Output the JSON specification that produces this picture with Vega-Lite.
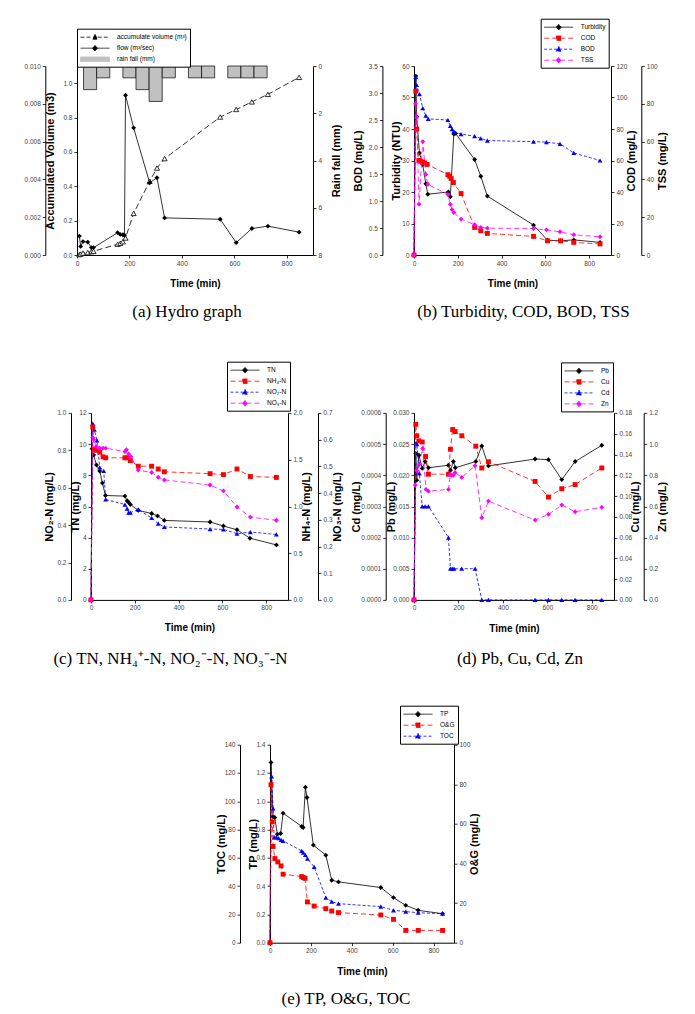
{
"$schema": "https://vega.github.io/schema/vega-lite/v6.json",
"background": "white",
"padding": {"left": 24, "top": 18, "right": 5, "bottom": 5},
"bounds": "flush",
"spacing": 346.9,
"resolve": {"scale": {"color": "independent"}, "legend": {"color": "independent"}},
"vconcat": [
{
"hconcat": [
{
"width": 236, "height": 189,
"title": {"text": "(a) Hydro graph", "offset": 15, "dx": -8},
"data": {"values": [
{"s":"rain fall (mm)","t":25,"t2":75,"v":1.0},
{"s":"rain fall (mm)","t":75,"t2":125,"v":0.5},
{"s":"rain fall (mm)","t":175,"t2":225,"v":0.5},
{"s":"rain fall (mm)","t":225,"t2":275,"v":1.0},
{"s":"rain fall (mm)","t":275,"t2":325,"v":1.5},
{"s":"rain fall (mm)","t":325,"t2":375,"v":0.5},
{"s":"rain fall (mm)","t":425,"t2":475,"v":0.5},
{"s":"rain fall (mm)","t":475,"t2":525,"v":0.5},
{"s":"rain fall (mm)","t":575,"t2":625,"v":0.5},
{"s":"rain fall (mm)","t":625,"t2":675,"v":0.5},
{"s":"rain fall (mm)","t":675,"t2":725,"v":0.5},
{"s":"accumulate volume (m³)","t":9,"v":0.00002},
{"s":"accumulate volume (m³)","t":14,"v":0.00005},
{"s":"accumulate volume (m³)","t":23,"v":0.0001},
{"s":"accumulate volume (m³)","t":41,"v":0.00013},
{"s":"accumulate volume (m³)","t":55,"v":0.00018},
{"s":"accumulate volume (m³)","t":63,"v":0.0002},
{"s":"accumulate volume (m³)","t":155,"v":0.00057},
{"s":"accumulate volume (m³)","t":165,"v":0.00062},
{"s":"accumulate volume (m³)","t":175,"v":0.0007},
{"s":"accumulate volume (m³)","t":185,"v":0.0009},
{"s":"accumulate volume (m³)","t":216,"v":0.0022},
{"s":"accumulate volume (m³)","t":277,"v":0.0039},
{"s":"accumulate volume (m³)","t":305,"v":0.0046},
{"s":"accumulate volume (m³)","t":334,"v":0.0051},
{"s":"accumulate volume (m³)","t":546,"v":0.0073},
{"s":"accumulate volume (m³)","t":607,"v":0.0077},
{"s":"accumulate volume (m³)","t":667,"v":0.0081},
{"s":"accumulate volume (m³)","t":728,"v":0.0085},
{"s":"accumulate volume (m³)","t":847,"v":0.0094},
{"s":"flow (m³/sec)","t":9,"v":0.11},
{"s":"flow (m³/sec)","t":14,"v":0.05},
{"s":"flow (m³/sec)","t":23,"v":0.078},
{"s":"flow (m³/sec)","t":41,"v":0.075},
{"s":"flow (m³/sec)","t":55,"v":0.043},
{"s":"flow (m³/sec)","t":63,"v":0.043},
{"s":"flow (m³/sec)","t":155,"v":0.13},
{"s":"flow (m³/sec)","t":165,"v":0.12},
{"s":"flow (m³/sec)","t":175,"v":0.118},
{"s":"flow (m³/sec)","t":181,"v":0.115},
{"s":"flow (m³/sec)","t":185,"v":0.93},
{"s":"flow (m³/sec)","t":216,"v":0.74},
{"s":"flow (m³/sec)","t":277,"v":0.42},
{"s":"flow (m³/sec)","t":305,"v":0.45},
{"s":"flow (m³/sec)","t":334,"v":0.216},
{"s":"flow (m³/sec)","t":546,"v":0.208},
{"s":"flow (m³/sec)","t":607,"v":0.072},
{"s":"flow (m³/sec)","t":667,"v":0.154},
{"s":"flow (m³/sec)","t":728,"v":0.168},
{"s":"flow (m³/sec)","t":847,"v":0.133}
]},
"encoding": {
"x": {"field": "t", "type": "quantitative", "scale": {"domain": [0, 900], "nice": false}, "axis": {"values": [0, 200, 400, 600, 800], "format": "d", "title": "Time (min)", "titleFontSize": 10, "titleY": 28.5, "titleBaseline": "middle"}},
"color": {"field": "s", "type": "nominal", "scale": {"domain": ["accumulate volume (m³)", "flow (m³/sec)", "rain fall (mm)"], "range": ["black", "black", "#c0c0c0"]},
 "legend": {"title": null, "orient": "none", "legendX": 0, "legendY": -37.3,
  "encode": {"symbols": {"update": {
   "shape": {"signal": "datum.value === 'rain fall (mm)' ? 'M-1,-0.45H4.8V0.45H-1Z' : datum.value === 'flow (m³/sec)' ? 'M-1,0H4.8M1.4,0L1.9,-0.55L2.4,0L1.9,0.55Z' : 'M-1,0H1.35M2.45,0H4.8M1.9,-0.55L2.4,0.4H1.4Z'"},
   "fill": {"signal": "datum.value === 'rain fall (mm)' ? '#c0c0c0' : datum.value === 'flow (m³/sec)' ? 'black' : 'white'"},
   "stroke": {"value": "black"},
   "strokeDash": {"signal": "datum.value === 'accumulate volume (m³)' ? [4,2] : [1,0]"},
   "strokeWidth": {"value": 0.8}, "size": {"value": 100}, "opacity": {"value": 1}, "fillOpacity": {"value": 1}, "strokeOpacity": {"value": 1}}}}}}
},
"layer": [
{"transform": [{"filter": "datum.s === 'rain fall (mm)'"}],
 "mark": {"type": "bar", "stroke": "black", "strokeWidth": 0.7},
 "encoding": {"x2": {"field": "t2"}, "y2": {"datum": 0}, "y": {"field": "v", "type": "quantitative", "scale": {"domain": [0, 8], "reverse": true, "nice": false},
  "axis": {"orient": "right", "offset": 0, "values": [0, 2, 4, 6, 8], "format": "d", "title": "Rain fall (mm)", "titleX": 23, "titleY": 94.5, "titleAngle": 270, "titleAlign": "center", "titleBaseline": "middle"}}}},
{"transform": [{"filter": "datum.s === 'accumulate volume (m³)'"}],
 "mark": {"type": "line", "strokeWidth": 0.8, "strokeDash": [6, 3], "point": {"shape": "triangle-up", "filled": false, "fill": "white", "size": 26, "strokeWidth": 0.8}},
 "encoding": {"y": {"field": "v", "type": "quantitative", "scale": {"domain": [0, 0.01], "nice": false},
  "axis": {"orient": "left", "offset": 31.7, "values": [0, 0.002, 0.004, 0.006, 0.008, 0.01], "format": ".3f", "title": "Accumulated Volume (m3)", "titleX": 5.5, "titleY": 94.5, "titleAngle": 270, "titleAlign": "center", "titleBaseline": "middle"}}}},
{"transform": [{"filter": "datum.s === 'flow (m³/sec)'"}],
 "mark": {"type": "line", "strokeWidth": 0.8, "point": {"shape": "diamond", "filled": true, "size": 24}},
 "encoding": {"y": {"field": "v", "type": "quantitative", "scale": {"domain": [0, 1.1], "nice": false},
  "axis": {"orient": "left", "offset": 0, "values": [0, 0.2, 0.4, 0.6, 0.8, 1.0], "format": ".1f", "title": null}}}}
],
"resolve": {"scale": {"y": "independent"}, "axis": {"y": "independent"}}
},
{"width": 101, "height": 1, "data": {"values": []}, "mark": "point"},
{
"width": 197, "height": 189,
"title": {"text": "(b) Turbidity, COD, BOD, TSS", "offset": 15, "dx": 11},
"data": {"values": [
{"s":"Turbidity","t":0,"v":0},{"s":"Turbidity","t":8,"v":56.8},{"s":"Turbidity","t":12,"v":44},{"s":"Turbidity","t":25,"v":32.4},{"s":"Turbidity","t":40,"v":28.7},{"s":"Turbidity","t":54,"v":22.6},{"s":"Turbidity","t":63,"v":19.3},{"s":"Turbidity","t":157,"v":20},{"s":"Turbidity","t":166,"v":18.5},{"s":"Turbidity","t":182,"v":38.4},{"s":"Turbidity","t":190,"v":38.6},{"s":"Turbidity","t":277,"v":30.3},{"s":"Turbidity","t":305,"v":25},{"s":"Turbidity","t":335,"v":18.7},{"s":"Turbidity","t":546,"v":9.5},{"s":"Turbidity","t":610,"v":4.7},{"s":"Turbidity","t":670,"v":4.5},{"s":"Turbidity","t":730,"v":4.8},{"s":"Turbidity","t":850,"v":4.0},
{"s":"COD","t":0,"v":0},{"s":"COD","t":8,"v":104},{"s":"COD","t":12,"v":80},{"s":"COD","t":22,"v":60},{"s":"COD","t":30,"v":59.5},{"s":"COD","t":40,"v":59},{"s":"COD","t":48,"v":58.5},{"s":"COD","t":60,"v":57.5},{"s":"COD","t":155,"v":51},{"s":"COD","t":163,"v":50},{"s":"COD","t":170,"v":48.5},{"s":"COD","t":180,"v":46},{"s":"COD","t":215,"v":39},{"s":"COD","t":277,"v":17.5},{"s":"COD","t":305,"v":15.4},{"s":"COD","t":335,"v":13.7},{"s":"COD","t":546,"v":11.8},{"s":"COD","t":610,"v":9},{"s":"COD","t":670,"v":9},{"s":"COD","t":730,"v":8},{"s":"COD","t":850,"v":7},
{"s":"BOD","t":0,"v":0},{"s":"BOD","t":8,"v":3.3},{"s":"BOD","t":12,"v":3.15},{"s":"BOD","t":25,"v":2.98},{"s":"BOD","t":40,"v":2.72},{"s":"BOD","t":54,"v":2.58},{"s":"BOD","t":65,"v":2.52},{"s":"BOD","t":155,"v":2.5},{"s":"BOD","t":166,"v":2.39},{"s":"BOD","t":174,"v":2.33},{"s":"BOD","t":182,"v":2.29},{"s":"BOD","t":215,"v":2.24},{"s":"BOD","t":277,"v":2.2},{"s":"BOD","t":305,"v":2.16},{"s":"BOD","t":335,"v":2.12},{"s":"BOD","t":546,"v":2.1},{"s":"BOD","t":605,"v":2.09},{"s":"BOD","t":667,"v":2.06},{"s":"BOD","t":730,"v":1.89},{"s":"BOD","t":850,"v":1.75},
{"s":"TSS","t":0,"v":0},{"s":"TSS","t":7,"v":80},{"s":"TSS","t":12,"v":72.8},{"s":"TSS","t":23,"v":26.8},{"s":"TSS","t":40,"v":60},{"s":"TSS","t":54,"v":42.6},{"s":"TSS","t":63,"v":37.4},{"s":"TSS","t":155,"v":32},{"s":"TSS","t":166,"v":26.8},{"s":"TSS","t":174,"v":24},{"s":"TSS","t":182,"v":22.5},{"s":"TSS","t":215,"v":19},{"s":"TSS","t":277,"v":16},{"s":"TSS","t":305,"v":14.6},{"s":"TSS","t":335,"v":14.2},{"s":"TSS","t":546,"v":14},{"s":"TSS","t":605,"v":13.3},{"s":"TSS","t":667,"v":12.3},{"s":"TSS","t":730,"v":10.7},{"s":"TSS","t":850,"v":9.6}
]},
"encoding": {
"x": {"field": "t", "type": "quantitative", "scale": {"domain": [0, 900], "nice": false}, "axis": {"values": [0, 200, 400, 600, 800], "format": "d", "title": "Time (min)", "titleFontSize": 10, "titleY": 28.5, "titleBaseline": "middle"}},
"color": {"field": "s", "type": "nominal", "scale": {"domain": ["Turbidity", "COD", "BOD", "TSS"], "range": ["black", "#ff0000", "#0000ff", "#ff00ff"]},
 "legend": {"title": null, "orient": "none", "legendX": 126.7, "legendY": -47.3,
  "encode": {"symbols": {"update": {
   "shape": {"signal": "datum.value === 'COD' ? 'M-1,0H4.8M1.45,-0.45H2.35V0.45H1.45Z' : datum.value === 'BOD' ? 'M-1,0H4.8M1.9,-0.55L2.4,0.4H1.4Z' : 'M-1,0H4.8M1.4,0L1.9,-0.55L2.4,0L1.9,0.55Z'"},
   "fill": {"signal": "datum.value === 'Turbidity' ? 'black' : datum.value === 'COD' ? '#ff0000' : datum.value === 'BOD' ? '#0000ff' : '#ff00ff'"},
   "stroke": {"signal": "datum.value === 'Turbidity' ? 'black' : datum.value === 'COD' ? '#ff0000' : datum.value === 'BOD' ? '#0000ff' : '#ff00ff'"},
   "strokeDash": {"signal": "datum.value === 'Turbidity' ? [1,0] : datum.value === 'BOD' ? [3,2] : [5,3]"},
   "strokeWidth": {"value": 0.8}, "size": {"value": 100}, "opacity": {"value": 1}, "fillOpacity": {"value": 1}, "strokeOpacity": {"value": 1}}}}}}
},
"layer": [
{"transform": [{"filter": "datum.s === 'Turbidity'"}],
 "mark": {"type": "line", "strokeWidth": 0.8, "point": {"shape": "diamond", "filled": true, "size": 24}},
 "encoding": {"y": {"field": "v", "type": "quantitative", "scale": {"domain": [0, 60], "nice": false},
  "axis": {"orient": "left", "offset": 0, "values": [0, 10, 20, 30, 40, 50, 60], "format": "d", "title": "Turbidity (NTU)", "titleX": -17.3, "titleY": 94.5, "titleAngle": 270, "titleAlign": "center", "titleBaseline": "middle"}}}},
{"transform": [{"filter": "datum.s === 'BOD'"}],
 "mark": {"type": "line", "strokeWidth": 0.8, "strokeDash": [3, 2], "point": {"shape": "triangle-up", "filled": true, "size": 24}},
 "encoding": {"y": {"field": "v", "type": "quantitative", "scale": {"domain": [0, 3.5], "nice": false},
  "axis": {"orient": "left", "offset": 31.6, "values": [0, 0.5, 1, 1.5, 2, 2.5, 3, 3.5], "format": ".1f", "title": "BOD (mg/L)", "titleX": -23.7, "titleY": 94.5, "titleAngle": 270, "titleAlign": "center", "titleBaseline": "middle"}}}},
{"transform": [{"filter": "datum.s === 'COD'"}],
 "mark": {"type": "line", "strokeWidth": 0.8, "strokeDash": [5, 3], "point": {"shape": "square", "filled": true, "size": 24}},
 "encoding": {"y": {"field": "v", "type": "quantitative", "scale": {"domain": [0, 120], "nice": false},
  "axis": {"orient": "right", "offset": 0, "values": [0, 20, 40, 60, 80, 100, 120], "format": "d", "title": "COD (mg/L)", "titleX": 20, "titleY": 94.5, "titleAngle": 270, "titleAlign": "center", "titleBaseline": "middle"}}}},
{"transform": [{"filter": "datum.s === 'TSS'"}],
 "mark": {"type": "line", "strokeWidth": 0.8, "strokeDash": [5, 3], "point": {"shape": "diamond", "filled": true, "size": 24}},
 "encoding": {"y": {"field": "v", "type": "quantitative", "scale": {"domain": [0, 100], "nice": false},
  "axis": {"orient": "right", "offset": 30.3, "values": [0, 20, 40, 60, 80, 100], "format": "d", "title": "TSS (mg/L)", "titleX": 21, "titleY": 94.5, "titleAngle": 270, "titleAlign": "center", "titleBaseline": "middle"}}}}
],
"resolve": {"scale": {"y": "independent"}, "axis": {"y": "independent"}}
}
],
"spacing": 0, "bounds": "flush",
"resolve": {"scale": {"color": "independent"}, "legend": {"color": "independent"}}
},
{
"vconcat": [
{
"hconcat": [
{"width": 14, "height": 1, "data": {"values": []}, "mark": "point"},
{
"width": 197, "height": 187,
"title": {"text": "(c) TN, NH₄⁺-N, NO₂⁻-N, NO₃⁻-N", "offset": 18, "dx": -19},
"data": {"values": [
{"s":"TN","t":0,"v":0},{"s":"TN","t":5,"v":9.7},{"s":"TN","t":12,"v":9.3},{"s":"TN","t":25,"v":8.66},{"s":"TN","t":40,"v":8.27},{"s":"TN","t":52,"v":7.5},{"s":"TN","t":66,"v":6.7},{"s":"TN","t":155,"v":6.66},{"s":"TN","t":165,"v":6.36},{"s":"TN","t":172,"v":6.25},{"s":"TN","t":180,"v":6.12},{"s":"TN","t":216,"v":5.75},{"s":"TN","t":277,"v":5.54},{"s":"TN","t":304,"v":5.39},{"s":"TN","t":335,"v":5.1},{"s":"TN","t":544,"v":5.0},{"s":"TN","t":605,"v":4.74},{"s":"TN","t":667,"v":4.5},{"s":"TN","t":726,"v":3.96},{"s":"TN","t":847,"v":3.53},
{"s":"NH₄-N","t":0,"v":0},{"s":"NH₄-N","t":8,"v":1.85},{"s":"NH₄-N","t":15,"v":1.61},{"s":"NH₄-N","t":25,"v":1.6},{"s":"NH₄-N","t":40,"v":1.58},{"s":"NH₄-N","t":55,"v":1.53},{"s":"NH₄-N","t":67,"v":1.52},{"s":"NH₄-N","t":155,"v":1.52},{"s":"NH₄-N","t":165,"v":1.52},{"s":"NH₄-N","t":180,"v":1.49},{"s":"NH₄-N","t":216,"v":1.43},{"s":"NH₄-N","t":277,"v":1.43},{"s":"NH₄-N","t":307,"v":1.4},{"s":"NH₄-N","t":335,"v":1.37},{"s":"NH₄-N","t":544,"v":1.35},{"s":"NH₄-N","t":605,"v":1.34},{"s":"NH₄-N","t":667,"v":1.4},{"s":"NH₄-N","t":728,"v":1.32},{"s":"NH₄-N","t":847,"v":1.31},
{"s":"NO₂-N","t":0,"v":0},{"s":"NO₂-N","t":8,"v":0.943},{"s":"NO₂-N","t":15,"v":0.91},{"s":"NO₂-N","t":27,"v":0.853},{"s":"NO₂-N","t":40,"v":0.709},{"s":"NO₂-N","t":58,"v":0.69},{"s":"NO₂-N","t":67,"v":0.537},{"s":"NO₂-N","t":155,"v":0.51},{"s":"NO₂-N","t":165,"v":0.488},{"s":"NO₂-N","t":172,"v":0.467},{"s":"NO₂-N","t":180,"v":0.467},{"s":"NO₂-N","t":216,"v":0.483},{"s":"NO₂-N","t":277,"v":0.438},{"s":"NO₂-N","t":307,"v":0.408},{"s":"NO₂-N","t":335,"v":0.39},{"s":"NO₂-N","t":544,"v":0.379},{"s":"NO₂-N","t":605,"v":0.377},{"s":"NO₂-N","t":667,"v":0.354},{"s":"NO₂-N","t":728,"v":0.363},{"s":"NO₂-N","t":847,"v":0.35},
{"s":"NO₃-N","t":0,"v":0},{"s":"NO₃-N","t":8,"v":0.608},{"s":"NO₃-N","t":12,"v":0.6},{"s":"NO₃-N","t":25,"v":0.574},{"s":"NO₃-N","t":40,"v":0.568},{"s":"NO₃-N","t":55,"v":0.568},{"s":"NO₃-N","t":67,"v":0.568},{"s":"NO₃-N","t":155,"v":0.555},{"s":"NO₃-N","t":162,"v":0.562},{"s":"NO₃-N","t":172,"v":0.546},{"s":"NO₃-N","t":182,"v":0.536},{"s":"NO₃-N","t":216,"v":0.486},{"s":"NO₃-N","t":277,"v":0.477},{"s":"NO₃-N","t":307,"v":0.459},{"s":"NO₃-N","t":335,"v":0.449},{"s":"NO₃-N","t":544,"v":0.43},{"s":"NO₃-N","t":605,"v":0.408},{"s":"NO₃-N","t":667,"v":0.348},{"s":"NO₃-N","t":728,"v":0.31},{"s":"NO₃-N","t":847,"v":0.298}
]},
"encoding": {
"x": {"field": "t", "type": "quantitative", "scale": {"domain": [0, 900], "nice": false}, "axis": {"values": [0, 200, 400, 600, 800], "format": "d", "title": "Time (min)", "titleFontSize": 10, "titleY": 28, "titleBaseline": "middle"}},
"color": {"field": "s", "type": "nominal", "scale": {"domain": ["TN", "NH₄-N", "NO₂-N", "NO₃-N"], "range": ["black", "#ff0000", "#0000ff", "#ff00ff"]},
 "legend": {"title": null, "orient": "none", "legendX": 136, "legendY": -51.2,
  "encode": {"symbols": {"update": {
   "shape": {"signal": "datum.value === 'NH₄-N' ? 'M-1,0H4.8M1.45,-0.45H2.35V0.45H1.45Z' : datum.value === 'NO₂-N' ? 'M-1,0H4.8M1.9,-0.55L2.4,0.4H1.4Z' : 'M-1,0H4.8M1.4,0L1.9,-0.55L2.4,0L1.9,0.55Z'"},
   "fill": {"signal": "datum.value === 'TN' ? 'black' : datum.value === 'NH₄-N' ? '#ff0000' : datum.value === 'NO₂-N' ? '#0000ff' : '#ff00ff'"},
   "stroke": {"signal": "datum.value === 'TN' ? 'black' : datum.value === 'NH₄-N' ? '#ff0000' : datum.value === 'NO₂-N' ? '#0000ff' : '#ff00ff'"},
   "strokeDash": {"signal": "datum.value === 'TN' ? [1,0] : datum.value === 'NO₂-N' ? [3,2] : [5,3]"},
   "strokeWidth": {"value": 0.8}, "size": {"value": 100}, "opacity": {"value": 1}, "fillOpacity": {"value": 1}, "strokeOpacity": {"value": 1}}}}}}
},
"layer": [
{"transform": [{"filter": "datum.s === 'TN'"}],
 "mark": {"type": "line", "strokeWidth": 0.8, "point": {"shape": "diamond", "filled": true, "size": 24}},
 "encoding": {"y": {"field": "v", "type": "quantitative", "scale": {"domain": [0, 12], "nice": false},
  "axis": {"orient": "left", "offset": 0, "values": [0, 2, 4, 6, 8, 10, 12], "format": "d", "title": "TN (mg/L)", "titleX": -15.7, "titleY": 93.5, "titleAngle": 270, "titleAlign": "center", "titleBaseline": "middle"}}}},
{"transform": [{"filter": "datum.s === 'NO₂-N'"}],
 "mark": {"type": "line", "strokeWidth": 0.8, "strokeDash": [3, 2], "point": {"shape": "triangle-up", "filled": true, "size": 24}},
 "encoding": {"y": {"field": "v", "type": "quantitative", "scale": {"domain": [0, 1], "nice": false},
  "axis": {"orient": "left", "offset": 20, "values": [0, 0.2, 0.4, 0.6, 0.8, 1.0], "format": ".1f", "title": "NO₂-N (mg/L)", "titleX": -21.7, "titleY": 93.5, "titleAngle": 270, "titleAlign": "center", "titleBaseline": "middle"}}}},
{"transform": [{"filter": "datum.s === 'NH₄-N'"}],
 "mark": {"type": "line", "strokeWidth": 0.8, "strokeDash": [5, 3], "point": {"shape": "square", "filled": true, "size": 24}},
 "encoding": {"y": {"field": "v", "type": "quantitative", "scale": {"domain": [0, 2], "nice": false},
  "axis": {"orient": "right", "offset": 0, "values": [0, 0.5, 1.0, 1.5, 2.0], "format": ".1f", "title": "NH₄-N (mg/L)", "titleX": 18.7, "titleY": 93.5, "titleAngle": 270, "titleAlign": "center", "titleBaseline": "middle"}}}},
{"transform": [{"filter": "datum.s === 'NO₃-N'"}],
 "mark": {"type": "line", "strokeWidth": 0.8, "strokeDash": [5, 3], "point": {"shape": "diamond", "filled": true, "size": 24}},
 "encoding": {"y": {"field": "v", "type": "quantitative", "scale": {"domain": [0, 0.7], "nice": false},
  "axis": {"orient": "right", "offset": 30, "values": [0, 0.1, 0.2, 0.3, 0.4, 0.5, 0.6, 0.7], "format": ".1f", "title": "NO₃-N (mg/L)", "titleX": 19.7, "titleY": 93.5, "titleAngle": 270, "titleAlign": "center", "titleBaseline": "middle"}}}}
],
"resolve": {"scale": {"y": "independent"}, "axis": {"y": "independent"}}
},
{"width": 126, "height": 1, "data": {"values": []}, "mark": "point"},
{
"width": 200, "height": 187,
"title": {"text": "(d) Pb, Cu, Cd, Zn", "offset": 18, "dx": 6},
"data": {"values": [
{"s":"Pb","t":0,"v":0},{"s":"Pb","t":8,"v":0.0235},{"s":"Pb","t":12,"v":0.0192},{"s":"Pb","t":22,"v":0.0232},{"s":"Pb","t":37,"v":0.0211},{"s":"Pb","t":50,"v":0.0222},{"s":"Pb","t":65,"v":0.0212},{"s":"Pb","t":155,"v":0.0216},{"s":"Pb","t":164,"v":0.0208},{"s":"Pb","t":177,"v":0.0222},{"s":"Pb","t":186,"v":0.0212},{"s":"Pb","t":278,"v":0.0222},{"s":"Pb","t":305,"v":0.0247},{"s":"Pb","t":335,"v":0.0215},{"s":"Pb","t":545,"v":0.0226},{"s":"Pb","t":605,"v":0.0225},{"s":"Pb","t":665,"v":0.0193},{"s":"Pb","t":725,"v":0.0222},{"s":"Pb","t":845,"v":0.0248},
{"s":"Cu","t":0,"v":0},{"s":"Cu","t":8,"v":0.169},{"s":"Cu","t":12,"v":0.158},{"s":"Cu","t":22,"v":0.153},{"s":"Cu","t":37,"v":0.152},{"s":"Cu","t":52,"v":0.138},{"s":"Cu","t":65,"v":0.121},{"s":"Cu","t":155,"v":0.121},{"s":"Cu","t":164,"v":0.145},{"s":"Cu","t":174,"v":0.164},{"s":"Cu","t":185,"v":0.162},{"s":"Cu","t":215,"v":0.158},{"s":"Cu","t":278,"v":0.148},{"s":"Cu","t":305,"v":0.127},{"s":"Cu","t":335,"v":0.133},{"s":"Cu","t":545,"v":0.114},{"s":"Cu","t":605,"v":0.099},{"s":"Cu","t":665,"v":0.107},{"s":"Cu","t":725,"v":0.111},{"s":"Cu","t":845,"v":0.127},
{"s":"Cd","t":0,"v":0},{"s":"Cd","t":9,"v":0.000504},{"s":"Cd","t":13,"v":0.0005},{"s":"Cd","t":24,"v":0.000406},{"s":"Cd","t":37,"v":0.0003},{"s":"Cd","t":50,"v":0.0003},{"s":"Cd","t":65,"v":0.0003},{"s":"Cd","t":155,"v":0.0002},{"s":"Cd","t":164,"v":0.0001},{"s":"Cd","t":172,"v":0.0001},{"s":"Cd","t":180,"v":0.0001},{"s":"Cd","t":215,"v":0.0001},{"s":"Cd","t":275,"v":0.0001},{"s":"Cd","t":305,"v":0},{"s":"Cd","t":335,"v":0},{"s":"Cd","t":545,"v":0},{"s":"Cd","t":605,"v":0},{"s":"Cd","t":665,"v":0},{"s":"Cd","t":725,"v":0},{"s":"Cd","t":845,"v":0},
{"s":"Zn","t":0,"v":0},{"s":"Zn","t":6,"v":0.737},{"s":"Zn","t":12,"v":0.83},{"s":"Zn","t":24,"v":0.87},{"s":"Zn","t":39,"v":0.972},{"s":"Zn","t":54,"v":0.709},{"s":"Zn","t":65,"v":0.698},{"s":"Zn","t":155,"v":0.709},{"s":"Zn","t":164,"v":0.805},{"s":"Zn","t":170,"v":0.8},{"s":"Zn","t":177,"v":0.8},{"s":"Zn","t":185,"v":0.818},{"s":"Zn","t":215,"v":0.786},{"s":"Zn","t":275,"v":0.861},{"s":"Zn","t":305,"v":0.527},{"s":"Zn","t":335,"v":0.634},{"s":"Zn","t":545,"v":0.512},{"s":"Zn","t":605,"v":0.549},{"s":"Zn","t":665,"v":0.609},{"s":"Zn","t":725,"v":0.566},{"s":"Zn","t":845,"v":0.594}
]},
"encoding": {
"x": {"field": "t", "type": "quantitative", "scale": {"domain": [0, 900], "nice": false}, "axis": {"values": [0, 200, 400, 600, 800], "format": "d", "title": "Time (min)", "titleFontSize": 10, "titleY": 28.4, "titleBaseline": "middle"}},
"color": {"field": "s", "type": "nominal", "scale": {"domain": ["Pb", "Cu", "Cd", "Zn"], "range": ["black", "#ff0000", "#0000ff", "#ff00ff"]},
 "legend": {"title": null, "orient": "none", "legendX": 147, "legendY": -50.5,
  "encode": {"symbols": {"update": {
   "shape": {"signal": "datum.value === 'Cu' ? 'M-1,0H4.8M1.45,-0.45H2.35V0.45H1.45Z' : datum.value === 'Cd' ? 'M-1,0H4.8M1.9,-0.55L2.4,0.4H1.4Z' : 'M-1,0H4.8M1.4,0L1.9,-0.55L2.4,0L1.9,0.55Z'"},
   "fill": {"signal": "datum.value === 'Pb' ? 'black' : datum.value === 'Cu' ? '#ff0000' : datum.value === 'Cd' ? '#0000ff' : '#ff00ff'"},
   "stroke": {"signal": "datum.value === 'Pb' ? 'black' : datum.value === 'Cu' ? '#ff0000' : datum.value === 'Cd' ? '#0000ff' : '#ff00ff'"},
   "strokeDash": {"signal": "datum.value === 'Pb' ? [1,0] : datum.value === 'Cd' ? [3,2] : [5,3]"},
   "strokeWidth": {"value": 0.8}, "size": {"value": 100}, "opacity": {"value": 1}, "fillOpacity": {"value": 1}, "strokeOpacity": {"value": 1}}}}}}
},
"layer": [
{"transform": [{"filter": "datum.s === 'Pb'"}],
 "mark": {"type": "line", "strokeWidth": 0.8, "point": {"shape": "diamond", "filled": true, "size": 24}},
 "encoding": {"y": {"field": "v", "type": "quantitative", "scale": {"domain": [0, 0.03], "nice": false},
  "axis": {"orient": "left", "offset": 0, "values": [0, 0.005, 0.01, 0.015, 0.02, 0.025, 0.03], "format": ".3f", "title": "Pb (mg/L)", "titleX": -23, "titleY": 93.5, "titleAngle": 270, "titleAlign": "center", "titleBaseline": "middle"}}}},
{"transform": [{"filter": "datum.s === 'Cd'"}],
 "mark": {"type": "line", "strokeWidth": 0.8, "strokeDash": [3, 2], "point": {"shape": "triangle-up", "filled": true, "size": 24}},
 "encoding": {"y": {"field": "v", "type": "quantitative", "scale": {"domain": [0, 0.0006], "nice": false},
  "axis": {"orient": "left", "offset": 28.3, "values": [0, 0.0001, 0.0002, 0.0003, 0.0004, 0.0005, 0.0006], "format": ".4f", "title": "Cd (mg/L)", "titleX": -29.7, "titleY": 93.5, "titleAngle": 270, "titleAlign": "center", "titleBaseline": "middle"}}}},
{"transform": [{"filter": "datum.s === 'Cu'"}],
 "mark": {"type": "line", "strokeWidth": 0.8, "strokeDash": [5, 3], "point": {"shape": "square", "filled": true, "size": 24}},
 "encoding": {"y": {"field": "v", "type": "quantitative", "scale": {"domain": [0, 0.18], "nice": false},
  "axis": {"orient": "right", "offset": 0, "values": [0, 0.02, 0.04, 0.06, 0.08, 0.1, 0.12, 0.14, 0.16, 0.18], "format": ".2f", "title": "Cu (mg/L)", "titleX": 21.4, "titleY": 93.5, "titleAngle": 270, "titleAlign": "center", "titleBaseline": "middle"}}}},
{"transform": [{"filter": "datum.s === 'Zn'"}],
 "mark": {"type": "line", "strokeWidth": 0.8, "strokeDash": [5, 3], "point": {"shape": "diamond", "filled": true, "size": 24}},
 "encoding": {"y": {"field": "v", "type": "quantitative", "scale": {"domain": [0, 1.2], "nice": false},
  "axis": {"orient": "right", "offset": 29.7, "values": [0, 0.2, 0.4, 0.6, 0.8, 1.0, 1.2], "format": ".1f", "title": "Zn (mg/L)", "titleX": 19, "titleY": 93.5, "titleAngle": 270, "titleAlign": "center", "titleBaseline": "middle"}}}}
],
"resolve": {"scale": {"y": "independent"}, "axis": {"y": "independent"}}
}
],
"spacing": 0, "bounds": "flush",
"resolve": {"scale": {"color": "independent"}, "legend": {"color": "independent"}}
},
{
"hconcat": [
{"width": 193, "height": 1, "data": {"values": []}, "mark": "point"},
{
"width": 184, "height": 198,
"title": {"text": "(e) TP, O&G, TOC", "offset": 15, "dx": -16},
"data": {"values": [
{"s":"TP","t":0,"v":0},{"s":"TP","t":5,"v":1.275},{"s":"TP","t":15,"v":0.89},{"s":"TP","t":23,"v":0.885},{"s":"TP","t":36,"v":0.767},{"s":"TP","t":52,"v":0.772},{"s":"TP","t":64,"v":0.916},{"s":"TP","t":155,"v":0.822},{"s":"TP","t":162,"v":0.815},{"s":"TP","t":173,"v":1.1},{"s":"TP","t":181,"v":1.027},{"s":"TP","t":212,"v":0.69},{"s":"TP","t":273,"v":0.619},{"s":"TP","t":302,"v":0.442},{"s":"TP","t":335,"v":0.43},{"s":"TP","t":542,"v":0.39},{"s":"TP","t":604,"v":0.319},{"s":"TP","t":664,"v":0.264},{"s":"TP","t":725,"v":0.229},{"s":"TP","t":844,"v":0.205},
{"s":"O&G","t":0,"v":0},{"s":"O&G","t":5,"v":79.8},{"s":"O&G","t":11,"v":61},{"s":"O&G","t":15,"v":48.6},{"s":"O&G","t":24,"v":42.5},{"s":"O&G","t":38,"v":40.8},{"s":"O&G","t":54,"v":38.8},{"s":"O&G","t":64,"v":34.6},{"s":"O&G","t":155,"v":33.4},{"s":"O&G","t":163,"v":32.9},{"s":"O&G","t":171,"v":32.5},{"s":"O&G","t":183,"v":20.6},{"s":"O&G","t":216,"v":18.5},{"s":"O&G","t":273,"v":17.2},{"s":"O&G","t":302,"v":16},{"s":"O&G","t":335,"v":15.2},{"s":"O&G","t":542,"v":14},{"s":"O&G","t":604,"v":11.8},{"s":"O&G","t":664,"v":6.2},{"s":"O&G","t":725,"v":6.2},{"s":"O&G","t":844,"v":6.2},
{"s":"TOC","t":0,"v":0},{"s":"TOC","t":8,"v":117.6},{"s":"TOC","t":15,"v":94.9},{"s":"TOC","t":20,"v":74.4},{"s":"TOC","t":30,"v":74.4},{"s":"TOC","t":42,"v":73.9},{"s":"TOC","t":54,"v":72.7},{"s":"TOC","t":64,"v":72},{"s":"TOC","t":155,"v":64.9},{"s":"TOC","t":163,"v":63.7},{"s":"TOC","t":173,"v":62.1},{"s":"TOC","t":183,"v":59.5},{"s":"TOC","t":216,"v":53.6},{"s":"TOC","t":273,"v":31.9},{"s":"TOC","t":302,"v":29},{"s":"TOC","t":335,"v":27.6},{"s":"TOC","t":542,"v":25.5},{"s":"TOC","t":604,"v":22.9},{"s":"TOC","t":664,"v":22},{"s":"TOC","t":725,"v":21.2},{"s":"TOC","t":844,"v":20.5}
]},
"encoding": {
"x": {"field": "t", "type": "quantitative", "scale": {"domain": [0, 900], "nice": false}, "axis": {"values": [0, 200, 400, 600, 800], "format": "d", "title": "Time (min)", "titleFontSize": 10, "titleY": 28.5, "titleBaseline": "middle"}},
"color": {"field": "s", "type": "nominal", "scale": {"domain": ["TP", "O&G", "TOC"], "range": ["black", "#ff0000", "#0000ff"]},
 "legend": {"title": null, "orient": "none", "legendX": 130, "legendY": -39,
  "encode": {"symbols": {"update": {
   "shape": {"signal": "datum.value === 'O&G' ? 'M-1,0H4.8M1.45,-0.45H2.35V0.45H1.45Z' : datum.value === 'TOC' ? 'M-1,0H4.8M1.9,-0.55L2.4,0.4H1.4Z' : 'M-1,0H4.8M1.4,0L1.9,-0.55L2.4,0L1.9,0.55Z'"},
   "fill": {"signal": "datum.value === 'TP' ? 'black' : datum.value === 'O&G' ? '#ff0000' : '#0000ff'"},
   "stroke": {"signal": "datum.value === 'TP' ? 'black' : datum.value === 'O&G' ? '#ff0000' : '#0000ff'"},
   "strokeDash": {"signal": "datum.value === 'TP' ? [1,0] : datum.value === 'TOC' ? [3,2] : [5,3]"},
   "strokeWidth": {"value": 0.8}, "size": {"value": 100}, "opacity": {"value": 1}, "fillOpacity": {"value": 1}, "strokeOpacity": {"value": 1}}}}}}
},
"layer": [
{"transform": [{"filter": "datum.s === 'TP'"}],
 "mark": {"type": "line", "strokeWidth": 0.8, "point": {"shape": "diamond", "filled": true, "size": 24}},
 "encoding": {"y": {"field": "v", "type": "quantitative", "scale": {"domain": [0, 1.4], "nice": false},
  "axis": {"orient": "left", "offset": 0, "values": [0, 0.2, 0.4, 0.6, 0.8, 1.0, 1.2, 1.4], "format": ".1f", "title": "TP (mg/L)", "titleX": -16.3, "titleY": 99, "titleAngle": 270, "titleAlign": "center", "titleBaseline": "middle"}}}},
{"transform": [{"filter": "datum.s === 'TOC'"}],
 "mark": {"type": "line", "strokeWidth": 0.8, "strokeDash": [3, 2], "point": {"shape": "triangle-up", "filled": true, "size": 24}},
 "encoding": {"y": {"field": "v", "type": "quantitative", "scale": {"domain": [0, 140], "nice": false},
  "axis": {"orient": "left", "offset": 30, "values": [0, 20, 40, 60, 80, 100, 120, 140], "format": "d", "title": "TOC (mg/L)", "titleX": -18.3, "titleY": 99, "titleAngle": 270, "titleAlign": "center", "titleBaseline": "middle"}}}},
{"transform": [{"filter": "datum.s === 'O&G'"}],
 "mark": {"type": "line", "strokeWidth": 0.8, "strokeDash": [5, 3], "point": {"shape": "square", "filled": true, "size": 24}},
 "encoding": {"y": {"field": "v", "type": "quantitative", "scale": {"domain": [0, 100], "nice": false},
  "axis": {"orient": "right", "offset": 0, "values": [0, 20, 40, 60, 80, 100], "format": "d", "title": "O&G (mg/L)", "titleX": 20.7, "titleY": 99, "titleAngle": 270, "titleAlign": "center", "titleBaseline": "middle"}}}}
],
"resolve": {"scale": {"y": "independent"}, "axis": {"y": "independent"}}
}
],
"spacing": 0, "bounds": "flush",
"resolve": {"scale": {"color": "independent"}, "legend": {"color": "independent"}}
}
],
"spacing": 331.8, "bounds": "flush",
"resolve": {"scale": {"color": "independent"}, "legend": {"color": "independent"}}
}
],
"config": {
"view": {"stroke": null},
"axis": {"grid": false, "domainColor": "black", "domainWidth": 1, "tickColor": "black", "tickWidth": 0.8, "tickSize": 3, "labelFont": "Liberation Sans", "labelFontSize": 6.5, "labelColor": "#444444", "labelPadding": 2, "labelFlush": false, "labelOverlap": false, "titleFont": "Liberation Sans", "titleFontSize": 11, "titleFontWeight": "bold", "titleColor": "black"},
"legend": {"strokeColor": "black", "fillColor": "white", "padding": 3, "labelFont": "Liberation Sans", "labelFontSize": 6.5, "labelColor": "black", "labelOffset": 26, "rowPadding": 1, "symbolSize": 100, "symbolStrokeWidth": 0.8, "labelLimit": 200},
"title": {"font": "Liberation Serif", "fontSize": 17, "fontWeight": "normal", "color": "black", "orient": "bottom", "anchor": "middle", "frame": "group"}
}
}
